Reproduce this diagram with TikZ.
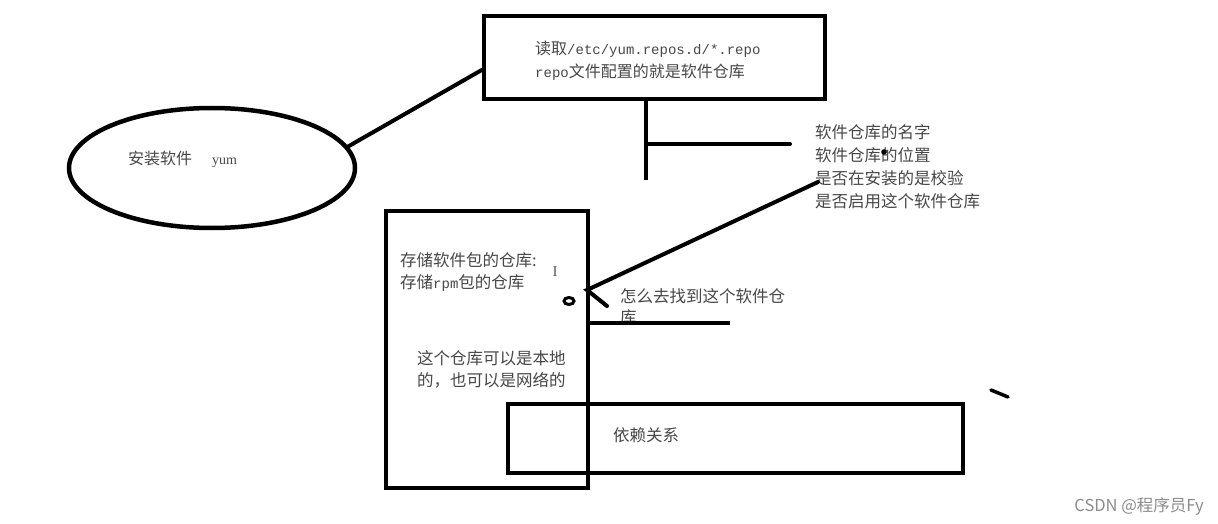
\documentclass[tikz,border=0pt]{standalone}
\usepackage{fontspec}
\setmainfont{Noto Sans CJK SC}
\setmonofont{Liberation Mono}
\newfontfamily\serifen{Liberation Serif}
\usetikzlibrary{shapes.geometric}
\begin{document}
\begin{tikzpicture}[x=1pt,y=-1pt,
  thickline/.style={line width=4.5pt, black},
  medline/.style={line width=4pt, black, line cap=round},
  boxshape/.style={draw, thickline, rectangle, inner sep=0pt},
  txt/.style={anchor=west, inner sep=0pt, text=black!72, font=\fontsize{16}{22}\selectfont, align=left},
  mono/.style={font=\fontsize{14}{22}\ttfamily}
]
\useasboundingbox[fill=white] (0,0) rectangle (1218,524);

% top box
\node[boxshape, minimum width=341pt, minimum height=83pt] (top) at (654.5,57.5) {};
\node[txt, font=\fontsize{16}{23}\selectfont] (toptxt) at (535,61)
  {读取{\fontsize{14}{23}\ttfamily /etc/yum.repos.d/*.repo}\\{\fontsize{14}{23}\ttfamily repo}文件配置的就是软件仓库};

% ellipse
\node[draw, thickline, ellipse, minimum width=286pt, minimum height=120pt, inner sep=0pt] (ell) at (212,168) {};
\node[txt] (inst) at (128,158) {安装软件};
\node[txt, font=\fontsize{14}{16}\serifen] (yum) at (212,163) {yum};

\draw[medline] (ell.9) -- (top.west |- 0,70);

% T shape
\coordinate (tbot) at (646,180);
\coordinate (tbar) at (790,144);
\draw[medline, line cap=butt] (top.south -| tbot) -- (tbot);
\draw[medline] (646,144) -- (tbar);

% list text
\node[txt, font=\fontsize{16.5}{23}\selectfont] (list) at (815,167)
  {软件仓库的名字\\软件仓库的位置\\是否在安装的是校验\\是否启用这个软件仓库};
\fill[black] (884,152) circle (2.8pt);

% left box
\node[boxshape, minimum width=202pt, minimum height=277pt] (left) at (487,349.5) {};
\node[txt, font=\fontsize{16.5}{22}\selectfont] (store) at (400,272)
  {存储软件包的仓库:\\存储{\fontsize{14}{22}\ttfamily rpm}包的仓库};
\node[anchor=center, inner sep=0pt, text=black!65, font=\fontsize{15}{15}\serifen] (cursor) at (555,272) {I};
\node[draw, line width=3pt, ellipse, minimum width=10pt, minimum height=7pt, inner sep=0pt] (ring) at (569,301) {};
\node[txt, font=\fontsize{16.5}{22}\selectfont] (local) at (417,369)
  {这个仓库可以是本地\\的，也可以是网络的};

% arrow
\coordinate (asrc) at (818,182);
\coordinate (atip) at (587,290);
\coordinate (abarb) at (607,306);
\draw[medline, line join=miter] (asrc) -- (atip) -- (abarb);

% find text
\node[txt, font=\fontsize{16.5}{21}\selectfont] (find) at (620,307)
  {怎么去找到这个软件仓\\库};
\coordinate (hend) at (730,323);
\draw[line width=3.5pt] (left.east |- hend) -- (hend);

% bottom box
\node[boxshape, minimum width=455pt, minimum height=69pt] (dep) at (735.5,438.5) {};
\node[txt, font=\fontsize{16.5}{22}\selectfont] (deptxt) at (613,435) {依赖关系};

% stray dash
\coordinate (d1) at (991,390);
\coordinate (d2) at (1008,397);
\draw[medline, line width=3.5pt] (d1) -- (d2);

% watermark
\node[anchor=east, inner sep=0pt, text=black!45, font=\fontsize{16.5}{17}\selectfont] (wm) at (1204,506) {CSDN @程序员Fy};
\end{tikzpicture}
\end{document}
